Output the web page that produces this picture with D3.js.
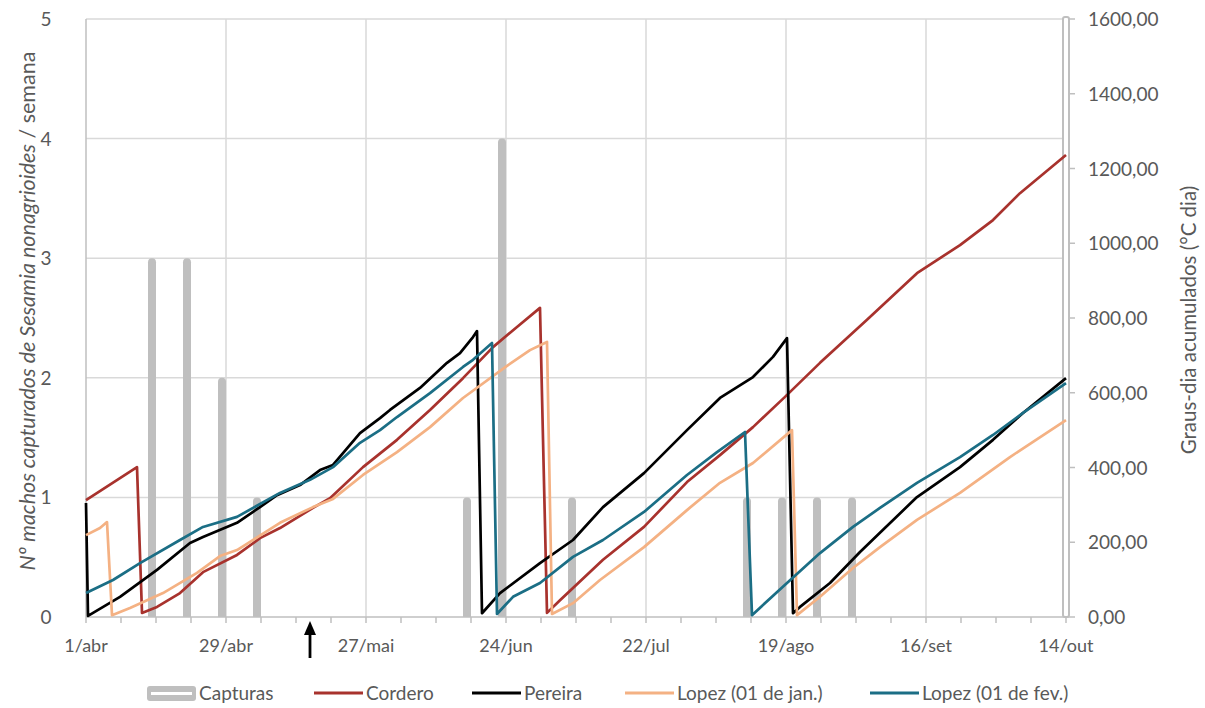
<!DOCTYPE html>
<html>
<head>
<meta charset="utf-8">
<script src="https://cdn.jsdelivr.net/npm/d3@7"></script>
<style>
  body { margin: 0; background: #fff; }
  svg { display: block; }
  text { font-family: Lato, "Open Sans", sans-serif; fill: #595959; }
</style>
</head>
<body>
<svg width="1205" height="708"></svg>
<script>
// dias contados desde 1/abr
const xTickDays = [0, 28, 56, 84, 112, 140, 168, 196]
const xTickLabels = ["1/abr", "29/abr", "27/mai", "24/jun", "22/jul", "19/ago", "16/set", "14/out"]
const yLeftTicks = [0, 1, 2, 3, 4, 5]
const yRightTicks = [0, 200, 400, 600, 800, 1000, 1200, 1400, 1600]

const capturasDia = [13.2, 20.2, 27.2, 34.2, 76.2, 83.2, 97.2, 132.2, 139.2, 146.2, 153.2]
const capturasValor = [3, 3, 2, 1, 1, 4, 1, 1, 1, 1, 1]

const setaDia = 44.8

// graus-dia acumulados [dia, valor]
const cordero = [[0, 313], [10.2, 401], [11.2, 11], [14.2, 27], [18.8, 64], [23.4, 120], [30.2, 166], [34.8, 211],
  [38.8, 238], [45.4, 292], [48.8, 318], [55.4, 401], [62.2, 474], [68.8, 554], [75.4, 639], [81.4, 722],
  [86.2, 776], [90.8, 827], [92.2, 11], [94.8, 45], [103.4, 153], [111.6, 241], [120.2, 361], [126.8, 433],
  [133.4, 508], [139.8, 589], [146.8, 680], [156.2, 795], [166.2, 920], [174.8, 995], [181.4, 1062],
  [186.8, 1134], [196, 1236]]

const pereira = [[0, 305], [0.4, 3], [6.8, 54], [14.2, 126], [20.8, 198], [23.4, 214], [30.2, 252], [34.8, 294],
  [38.2, 326], [42.8, 353], [46.8, 393], [49.4, 407], [54.8, 492], [58.8, 532], [60.8, 554], [66.8, 613],
  [72.2, 680], [74.8, 706], [77.4, 749], [78.2, 765], [79.2, 10], [82.8, 64], [90.8, 144], [97.4, 206],
  [103.4, 294], [111.6, 385], [120.2, 500], [126.8, 586], [133.4, 642], [137.4, 696], [140.2, 746],
  [141.4, 10], [142.8, 27], [148.8, 91], [154.8, 174], [166.2, 321], [174.8, 401], [181.4, 474],
  [187.4, 546], [196, 639]]

const lopezJan = [[0, 219], [2.8, 238], [4.2, 254], [5.2, 5], [8.8, 24], [15.4, 64], [22.2, 118], [26.8, 163],
  [30.2, 179], [38.8, 252], [45.4, 294], [49.4, 316], [55.4, 380], [62.2, 441], [68.8, 508], [75.4, 586],
  [84.2, 672], [88.8, 714], [92.2, 736], [93.2, 8], [97.4, 37], [102.8, 99], [111.6, 187], [120.2, 286],
  [126.8, 359], [133.4, 412], [141.2, 500], [142.2, 5], [146.8, 54], [153.4, 131], [158.8, 187],
  [166.2, 260], [174.8, 332], [184.8, 428], [196, 527]]

const lopezFev = [[0, 64], [5.4, 99], [10.8, 144], [18.8, 206], [23.4, 241], [30.2, 268], [38.8, 332],
  [44.8, 367], [49.4, 401], [54.8, 466], [58.8, 500], [62.2, 535], [68.8, 599], [75.4, 669], [77.4, 688],
  [81.2, 733], [82.2, 8], [85.4, 54], [90.8, 91], [97.4, 161], [103.4, 206], [111.6, 281], [120.2, 380],
  [126.2, 441], [131.8, 495], [133.2, 5], [140.2, 91], [146.8, 171], [153.4, 241], [158.8, 292],
  [166.2, 359], [174.8, 428], [181.4, 487], [187.4, 546], [196, 626]]

const series = [
  { nome: "Cordero", dados: cordero, cor: "#a8322d" },
  { nome: "Pereira", dados: pereira, cor: "#000000" },
  { nome: "Lopez (01 de jan.)", dados: lopezJan, cor: "#f4b183" },
  { nome: "Lopez (01 de fev.)", dados: lopezFev, cor: "#1b6e85" }
]

const mLeft = 86, mRight = 1066, mTop = 19, mBottom = 617
let svg = d3.select("svg")

let x = d3.scaleLinear().domain([0, 196]).range([mLeft, mRight])
let yL = d3.scaleLinear().domain([0, 5]).range([mBottom, mTop])
let yR = d3.scaleLinear().domain([0, 1600]).range([mBottom, mTop])

svg.append("defs").append("clipPath").attr("id", "area")
   .append("rect").attr("x", 0).attr("y", 0).attr("width", 1205).attr("height", mBottom)

// grade
svg.append("g").selectAll("line").data(yLeftTicks.slice(1))
   .enter().append("line")
   .attr("x1", mLeft).attr("x2", mRight)
   .attr("y1", d => yL(d)).attr("y2", d => yL(d))
   .attr("stroke", "#d9d9d9").attr("stroke-width", 1.5)

svg.append("g").selectAll("line").data(xTickDays.slice(1))
   .enter().append("line")
   .attr("x1", d => x(d)).attr("x2", d => x(d))
   .attr("y1", mTop).attr("y2", mBottom)
   .attr("stroke", "#d9d9d9").attr("stroke-width", 1.5)

// barra cinzenta na borda direita
svg.append("rect")
   .attr("x", x(196) - 3).attr("y", mTop - 2)
   .attr("width", 6).attr("height", mBottom - mTop + 2)
   .attr("rx", 2)
   .attr("fill", "#fff").attr("stroke", "#bfbfbf").attr("stroke-width", 2)

// eixos
svg.append("line").attr("x1", mLeft).attr("x2", mLeft).attr("y1", mTop).attr("y2", mBottom)
   .attr("stroke", "#bfbfbf").attr("stroke-width", 1.5)
svg.append("line").attr("x1", mLeft).attr("x2", mRight + 3).attr("y1", mBottom).attr("y2", mBottom)
   .attr("stroke", "#bfbfbf").attr("stroke-width", 1.5)

let minorTicks = d3.range(0, 197, 7)
svg.append("g").selectAll("line").data(minorTicks)
   .enter().append("line")
   .attr("x1", d => x(d)).attr("x2", d => x(d))
   .attr("y1", mBottom).attr("y2", mBottom + 6)
   .attr("stroke", "#bfbfbf").attr("stroke-width", 1.5)

svg.append("g").selectAll("line").data(yRightTicks)
   .enter().append("line")
   .attr("x1", mRight + 3).attr("x2", mRight + 9)
   .attr("y1", d => yR(d)).attr("y2", d => yR(d))
   .attr("stroke", "#bfbfbf").attr("stroke-width", 1.5)

// capturas
svg.append("g").attr("clip-path", "url(#area)")
   .selectAll("line").data(capturasDia)
   .enter().append("line")
   .attr("x1", d => x(d)).attr("x2", d => x(d))
   .attr("y1", mBottom + 6)
   .attr("y2", (d, i) => yL(capturasValor[i]) + 4)
   .attr("stroke", "#bfbfbf").attr("stroke-width", 8)
   .attr("stroke-linecap", "round")

// linhas
let line = d3.line().x(d => x(d[0])).y(d => yR(d[1]))
svg.append("g").selectAll("path").data(series)
   .enter().append("path")
   .attr("d", d => line(d.dados))
   .attr("fill", "none")
   .attr("stroke", d => d.cor)
   .attr("stroke-width", 2.7)
   .attr("stroke-linejoin", "round")

// rótulos
svg.append("g").selectAll("text").data(yLeftTicks)
   .enter().append("text")
   .attr("x", 46).attr("y", d => yL(d) + 7)
   .attr("text-anchor", "middle")
   .style("font-size", "19px")
   .text(d => d)

svg.append("g").selectAll("text").data(yRightTicks)
   .enter().append("text")
   .attr("x", 1088).attr("y", d => yR(d) + 7)
   .style("font-size", "19px")
   .text(d => d3.format(".2f")(d).replace(".", ","))

svg.append("g").selectAll("text").data(xTickDays)
   .enter().append("text")
   .attr("x", d => x(d)).attr("y", 652)
   .attr("text-anchor", "middle")
   .style("font-size", "18px")
   .text((d, i) => xTickLabels[i])

let tituloEsq = svg.append("text")
   .attr("transform", "translate(35, 311) rotate(-90)")
   .attr("text-anchor", "middle")
   .style("font-size", "21.5px")
tituloEsq.append("tspan").style("font-style", "italic").text("Nº machos capturados de Sesamia nonagrioides")
tituloEsq.append("tspan").text(" / semana")

svg.append("text")
   .attr("transform", "translate(1196, 320) rotate(-90)")
   .attr("text-anchor", "middle")
   .style("font-size", "20.5px")
   .text("Graus-dia acumulados (°C dia)")

// seta
let sx = x(setaDia)
svg.append("line").attr("x1", sx).attr("x2", sx).attr("y1", 632).attr("y2", 658)
   .attr("stroke", "#000").attr("stroke-width", 2.8)
svg.append("path")
   .attr("d", `M${sx},621 L${sx - 6},635 L${sx + 6},635 Z`)
   .attr("fill", "#000")

// legenda
let legendaX = [147, 314, 472, 625, 870]
let itens = [{ nome: "Capturas", cor: "#bfbfbf", barra: true }].concat(series)
let legenda = svg.append("g").selectAll("g").data(itens)
   .enter().append("g")
   .attr("transform", (d, i) => `translate(${legendaX[i]}, 0)`)

legenda.filter(d => d.barra).append("rect")
   .attr("x", 0).attr("y", 686).attr("width", 49).attr("height", 15)
   .attr("rx", 3).attr("fill", "#bfbfbf")
legenda.filter(d => d.barra).append("rect")
   .attr("x", 4).attr("y", 692).attr("width", 41).attr("height", 3)
   .attr("fill", "#fff")
legenda.filter(d => !d.barra).append("line")
   .attr("x1", 0).attr("x2", 49).attr("y1", 693).attr("y2", 693)
   .attr("stroke", d => d.cor).attr("stroke-width", 3)
legenda.append("text")
   .attr("x", 52).attr("y", 700)
   .style("font-size", "19px")
   .text(d => d.nome)
</script>
</body>
</html>
